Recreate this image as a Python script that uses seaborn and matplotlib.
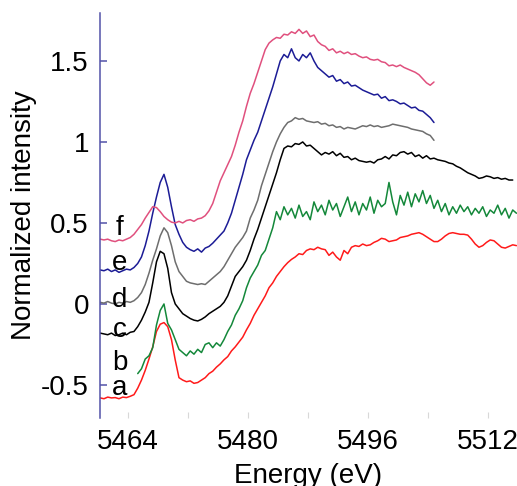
import numpy as np
import pandas as pd
import matplotlib
matplotlib.use("Agg")
import matplotlib.pyplot as plt
import seaborn as sns
from matplotlib.ticker import FixedLocator, FuncFormatter

# ---------------- data ----------------
sample_labels = ["a", "b", "c", "d", "e", "f"]
sample_colors = ["#ff1a1a", "#14883a", "#000000", "#6e6e6e", "#1c1c96", "#e0507e"]

# first energy of each spectrum (eV); spectra sampled every 0.5 eV
start_energy = {"a": 5460.3, "b": 5465.3, "c": 5460.3, "d": 5460.3, "e": 5460.3, "f": 5460.3}
energy_step = 0.5

intensity_a = [
    -0.58, -0.585, -0.575, -0.58, -0.578, -0.585, -0.575, -0.578, -0.57, -0.56,
    -0.52, -0.47, -0.41, -0.34, -0.265, -0.17, -0.125, -0.115, -0.14, -0.22,
    -0.346, -0.455, -0.47, -0.48, -0.475, -0.49, -0.485, -0.47, -0.455, -0.43,
    -0.415, -0.39, -0.37, -0.345, -0.325, -0.29, -0.265, -0.235, -0.205, -0.16,
    -0.12, -0.07, -0.03, 0.01, 0.05, 0.10, 0.13, 0.17, 0.20, 0.23,
    0.255, 0.275, 0.29, 0.31, 0.305, 0.33, 0.34, 0.335, 0.35, 0.34,
    0.335, 0.30, 0.32, 0.29, 0.27, 0.33, 0.31, 0.35, 0.36, 0.355,
    0.37, 0.36, 0.365, 0.38, 0.39, 0.405, 0.40, 0.385, 0.39, 0.395,
    0.41, 0.415, 0.42, 0.43, 0.435, 0.44, 0.43, 0.415, 0.40, 0.385,
    0.385, 0.40, 0.42, 0.435, 0.44, 0.435, 0.43, 0.43, 0.425, 0.40,
    0.37, 0.35, 0.36, 0.38, 0.395, 0.39, 0.37, 0.35, 0.345, 0.355,
    0.365, 0.36,
]

intensity_b = [
    -0.43, -0.40, -0.34, -0.32, -0.27, -0.13, -0.04, 0.0, -0.12, -0.16,
    -0.22, -0.28, -0.30, -0.32, -0.29, -0.31, -0.28, -0.30, -0.25, -0.24,
    -0.27, -0.24, -0.26, -0.22, -0.17, -0.13, -0.07, -0.03, 0.02, 0.10,
    0.16, 0.20, 0.24, 0.30, 0.33, 0.40, 0.47, 0.57, 0.52, 0.60,
    0.55, 0.59, 0.53, 0.61, 0.54, 0.57, 0.52, 0.63, 0.57, 0.61,
    0.55, 0.64, 0.58, 0.62, 0.54, 0.60, 0.66, 0.57, 0.63, 0.55,
    0.62, 0.58, 0.66, 0.56, 0.64, 0.60, 0.62, 0.75, 0.63, 0.55,
    0.67, 0.61, 0.69, 0.60, 0.68, 0.63, 0.70, 0.62, 0.67, 0.59,
    0.64, 0.57, 0.62, 0.55, 0.60, 0.56, 0.61, 0.57, 0.60, 0.55,
    0.59, 0.56, 0.60, 0.54, 0.58, 0.56, 0.61, 0.55, 0.59, 0.53,
    0.58, 0.56,
]

intensity_c = [
    -0.18, -0.185, -0.19, -0.18, -0.195, -0.19, -0.18, -0.19, -0.175, -0.17,
    -0.14, -0.10, -0.05, 0.01, 0.13, 0.26, 0.325, 0.31, 0.22, 0.07,
    0.0, -0.03, -0.06, -0.075, -0.09, -0.10, -0.105, -0.095, -0.08, -0.06,
    -0.045, -0.03, -0.015, 0.01, 0.05, 0.11, 0.17, 0.20, 0.23, 0.27,
    0.33, 0.40, 0.46, 0.53, 0.60, 0.67, 0.74, 0.81, 0.89, 0.96,
    0.975, 0.97, 0.99, 0.985, 1.00, 0.975, 0.98, 0.96, 0.94, 0.92,
    0.935, 0.925, 0.94, 0.915, 0.93, 0.905, 0.91, 0.89, 0.90, 0.885,
    0.88, 0.875, 0.88, 0.87, 0.89, 0.895, 0.91, 0.895, 0.92, 0.915,
    0.935, 0.94, 0.925, 0.935, 0.91, 0.92, 0.90, 0.915, 0.895, 0.90,
    0.89, 0.885, 0.88, 0.87, 0.865, 0.85, 0.84, 0.825, 0.81, 0.80,
    0.79, 0.775, 0.78, 0.79, 0.785, 0.775, 0.78, 0.77, 0.775, 0.765,
    0.765,
]

intensity_d = [
    0.01, 0.005, 0.015, 0.005, 0.0, 0.01, 0.005, 0.015, 0.01, 0.02,
    0.04, 0.07, 0.12, 0.19, 0.27, 0.34, 0.42, 0.47, 0.44, 0.36,
    0.26, 0.20, 0.17, 0.14, 0.13, 0.125, 0.12, 0.125, 0.12, 0.14,
    0.16, 0.18, 0.20, 0.23, 0.27, 0.31, 0.35, 0.38, 0.41, 0.45,
    0.53, 0.58, 0.64, 0.73, 0.80, 0.87, 0.94, 1.00, 1.05, 1.09,
    1.12, 1.13, 1.15, 1.14, 1.145, 1.13, 1.125, 1.12, 1.125, 1.11,
    1.115, 1.10, 1.105, 1.09, 1.095, 1.08, 1.09, 1.085, 1.08, 1.09,
    1.10, 1.095, 1.105, 1.095, 1.10, 1.09, 1.095, 1.10, 1.11, 1.105,
    1.10, 1.095, 1.09, 1.08, 1.075, 1.07, 1.065, 1.05, 1.04, 1.01,
]

intensity_e = [
    0.21, 0.205, 0.215, 0.20, 0.21, 0.195, 0.205, 0.215, 0.21, 0.225,
    0.25, 0.29, 0.36, 0.45, 0.56, 0.66, 0.75, 0.80, 0.72, 0.60,
    0.49, 0.43, 0.38, 0.35, 0.335, 0.325, 0.34, 0.32, 0.345, 0.355,
    0.375, 0.40, 0.425, 0.45, 0.50, 0.56, 0.64, 0.72, 0.80, 0.89,
    0.95, 1.01, 1.06, 1.13, 1.20, 1.27, 1.34, 1.42, 1.50, 1.54,
    1.52, 1.575, 1.52, 1.50, 1.54, 1.52, 1.55, 1.50, 1.46, 1.44,
    1.42, 1.40, 1.41, 1.375, 1.385, 1.36, 1.37, 1.345, 1.35, 1.335,
    1.32, 1.31, 1.30, 1.29, 1.295, 1.27, 1.28, 1.255, 1.26, 1.25,
    1.235, 1.24, 1.225, 1.21, 1.215, 1.195, 1.19, 1.17, 1.15, 1.12,
]

intensity_f = [
    0.40, 0.395, 0.40, 0.39, 0.385, 0.395, 0.39, 0.40, 0.41, 0.43,
    0.46, 0.49, 0.53, 0.565, 0.60, 0.595, 0.57, 0.54, 0.52, 0.505,
    0.50, 0.51, 0.50, 0.515, 0.52, 0.51, 0.525, 0.53, 0.545, 0.575,
    0.62, 0.69, 0.76, 0.81, 0.86, 0.91, 0.98, 1.06, 1.13, 1.22,
    1.30, 1.36, 1.43, 1.50, 1.57, 1.61, 1.63, 1.645, 1.64, 1.665,
    1.66, 1.68, 1.67, 1.695, 1.67, 1.685, 1.65, 1.66, 1.62, 1.60,
    1.59, 1.565, 1.575, 1.55, 1.56, 1.545, 1.555, 1.54, 1.545, 1.53,
    1.52, 1.525, 1.51, 1.505, 1.51, 1.495, 1.49, 1.47, 1.475, 1.465,
    1.475, 1.46, 1.45, 1.44, 1.43, 1.415, 1.39, 1.365, 1.35, 1.37,
]

x_ticks = [5464, 5480, 5496, 5512]
x_minor_ticks = [5472, 5488, 5504]
y_ticks = [-0.5, 0, 0.5, 1, 1.5]
x_label = "Energy (eV)"
y_label = "Normalized intensity"

# ---------------- build table ----------------
series = {"a": intensity_a, "b": intensity_b, "c": intensity_c,
          "d": intensity_d, "e": intensity_e, "f": intensity_f}
frames = []
for lab in sample_labels:
    vals = np.asarray(series[lab], dtype=float)
    en = start_energy[lab] + energy_step * np.arange(len(vals))
    frames.append(pd.DataFrame({"energy": en, "intensity": vals, "sample": lab}))
df = pd.concat(frames, ignore_index=True)

# ---------------- style ----------------
sns.set_theme(style="white")
plt.rcParams["font.family"] = ["Liberation Sans", "DejaVu Sans"]
plt.rcParams["axes.unicode_minus"] = False

W, H = 517, 486
fig = plt.figure(figsize=(W / 100, H / 100), dpi=100)
ax = fig.add_axes([100 / W, 1 - 418 / H, 417 / W, 405 / H])

sns.lineplot(data=df, x="energy", y="intensity", hue="sample",
             palette=dict(zip(sample_labels, sample_colors)),
             estimator=None, sort=False, linewidth=1.1, legend=False, ax=ax)

ax.set_xlim(5460.27, 5515.87)
ax.set_ylim(-0.704, 1.796)

for s in ["top", "right", "bottom"]:
    ax.spines[s].set_visible(False)
ax.spines["left"].set_color("#5252a8")
ax.spines["left"].set_linewidth(1.1)

ax.xaxis.set_major_locator(FixedLocator(x_ticks))
ax.xaxis.set_minor_locator(FixedLocator(x_minor_ticks))
ax.yaxis.set_major_locator(FixedLocator(y_ticks))
ax.yaxis.set_major_formatter(FuncFormatter(lambda v, p: f"{v:g}"))

ax.tick_params(axis="y", which="major", direction="in", length=5, width=1.1,
               color="#5252a8", labelsize=20, pad=8, left=True, labelcolor="black")
ax.tick_params(axis="x", which="major", direction="in", length=4, width=0.8,
               color="#d8d8d8", labelsize=20, pad=8, bottom=True, labelcolor="black")
ax.tick_params(axis="x", which="minor", direction="in", length=4, width=0.8,
               color="#d8d8d8", bottom=True)

ax.set_xlabel(x_label, fontsize=20, labelpad=6, color="black")
ax.set_ylabel(y_label, fontsize=20, labelpad=3, color="black")

# curve letters
letter_x = 5462.93
letter_y = {"a": -0.562, "b": -0.407, "c": -0.204, "d": -0.019, "e": 0.21, "f": 0.426}
for lab in sample_labels:
    ax.text(letter_x, letter_y[lab], lab, fontsize=20, ha="center", va="baseline",
            color="black")

fig.savefig("out.png", dpi=100)
